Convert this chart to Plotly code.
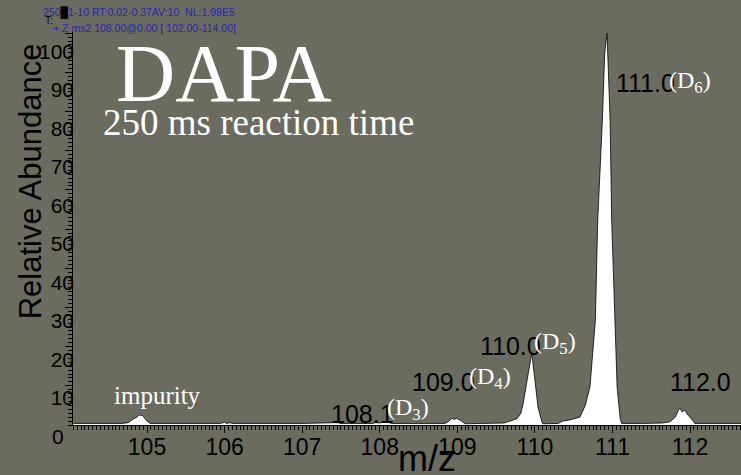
import plotly.graph_objects as go

# ---- data ----
mz = [104.05, 104.30, 104.55, 104.68, 104.76, 104.78, 104.82, 104.87, 104.90, 104.92,
      104.94, 104.96, 105.00, 105.04, 105.30, 105.60, 105.95, 106.00, 106.03, 106.07,
      106.10, 106.50, 107.00, 107.45, 107.50, 107.90, 107.95, 108.00, 108.07, 108.12,
      108.16, 108.50, 108.84, 108.88, 108.93, 108.96, 108.99, 109.04, 109.10, 109.30,
      109.60, 109.68, 109.77, 109.82, 109.85, 109.90, 109.96, 110.00, 110.04, 110.09,
      110.10, 110.30, 110.36, 110.45, 110.58, 110.65, 110.71, 110.78, 110.81, 110.87,
      110.90, 110.93, 110.94, 110.97, 110.99, 111.03, 111.06, 111.10, 111.12, 111.40,
      111.64, 111.74, 111.81, 111.85, 111.87, 111.90, 111.92, 111.94, 111.97, 112.03,
      112.06, 112.40, 112.66]
abundance = [0.4, 0.4, 0.4, 0.4, 0.6, 0.9, 1.5, 2.0, 2.6, 2.4,
             2.5, 2.0, 1.0, 0.4, 0.4, 0.4, 0.4, 0.7, 0.4, 0.6,
             0.4, 0.4, 0.4, 0.6, 0.4, 0.4, 0.6, 0.5, 0.9, 0.6,
             0.4, 0.4, 0.4, 0.8, 1.7, 1.4, 1.7, 1.2, 0.3, 0.4,
             0.5, 1.0, 1.6, 3.0, 5.6, 11.5, 18.4, 11.5, 4.6, 0.8,
             0.3, 0.4, 1.0, 1.3, 2.0, 5.0, 9.7, 26.8, 52.3, 77.8,
             94.9, 100.0, 94.9, 77.8, 52.3, 26.8, 9.7, 1.5, 0.4, 0.4,
             0.5, 0.8, 2.0, 3.8, 4.3, 3.3, 3.8, 3.6, 2.6, 1.3,
             0.4, 0.4, 0.4]

x_ticks = [105, 106, 107, 108, 109, 110, 111, 112]
y_label_vals = [10, 20, 30, 40, 50, 60, 70, 80, 90, 100]

peak_labels = ["111.0", "110.0", "109.0", "108.1", "112.0"]
peak_label_x = [111.42, 109.69, 108.82, 107.78, 112.14]
peak_label_y = [87.2, 20.2, 11.0, 2.8, 11.0]

d_labels = ["(D<sub>6</sub>)", "(D<sub>5</sub>)", "(D<sub>4</sub>)", "(D<sub>3</sub>)"]
d_label_x = [111.70, 109.96, 109.13, 108.07]
d_label_y = [87.5, 20.9, 12.0, 4.0]

BG = "rgb(107,107,95)"
SANS = "Liberation Sans, Arial, sans-serif"
NARROW = "Liberation Sans Narrow, Arial Narrow, Liberation Sans, Arial, sans-serif"
SERIF = "Liberation Serif, Times New Roman, serif"

fig = go.Figure()
fig.add_trace(go.Scatter(
    x=mz, y=abundance, mode="lines", fill="tozeroy",
    fillcolor="white", line=dict(color="black", width=0.8),
    showlegend=False, hoverinfo="skip"))
# invisible trace on the label axis
fig.add_trace(go.Scatter(x=[mz[0]], y=[50], yaxis="y2", mode="markers",
                         marker=dict(opacity=0), showlegend=False, hoverinfo="skip"))

fig.update_layout(
    width=741, height=475,
    margin=dict(l=73, r=0, t=32, b=50, autoexpand=False),
    paper_bgcolor=BG, plot_bgcolor=BG,
    xaxis=dict(range=[104.046, 112.657], tickvals=x_ticks,
               ticktext=[str(v) for v in x_ticks],
               showgrid=False, zeroline=False, showline=True, linecolor="black",
               linewidth=1, ticks="outside", ticklen=7, tickcolor="black",
               tickfont=dict(family=NARROW, size=23, color="black"),
               ticklabelstandoff=-6,
               minor=dict(dtick=0.05, ticks="outside", ticklen=4, tickcolor="black"),
               automargin=False),
    yaxis=dict(range=[0, 100.3], tickvals=y_label_vals, showticklabels=False,
               showgrid=False, zeroline=False, showline=True, linecolor="black",
               linewidth=1, ticks="outside", ticklen=7, tickcolor="black",
               minor=dict(dtick=1, ticks="outside", ticklen=4, tickcolor="black"),
               automargin=False),
    yaxis2=dict(overlaying="y", side="left", anchor="x", range=[2.9, 105.1],
                tickvals=y_label_vals, ticktext=[str(v) for v in y_label_vals],
                showgrid=False, zeroline=False, showline=False, ticks="",
                tickfont=dict(family=SANS, size=21, color="black"),
                ticklabelstandoff=-2, automargin=False),
)

ann = []
# "0" tick label
ann.append(dict(text="0", x=(58 - 73) / 668, xref="paper", y=(425 - 436) / 393, yref="paper",
                showarrow=False, font=dict(family=SANS, size=21, color="black"),
                xanchor="center", yanchor="middle"))
# axis titles
ann.append(dict(text="Relative Abundance", x=(30 - 73) / 668, xref="paper", y=0.62,
                yref="paper", showarrow=False, textangle=-90,
                font=dict(family=SANS, size=31, color="black"),
                xanchor="center", yanchor="middle"))
ann.append(dict(text="m/z", x=(427 - 73) / 668, xref="paper", y=-0.027, yref="paper",
                showarrow=False, font=dict(family=NARROW, size=36, color="black"),
                xanchor="center", yanchor="top"))
# title texts
ann.append(dict(text="DAPA", x=105.99, y=89.7, xref="x", yref="y", showarrow=False,
                font=dict(family=SERIF, size=82, color="white"),
                xanchor="center", yanchor="middle"))
ann.append(dict(text="250 ms reaction time", x=106.44, y=77.2, xref="x", yref="y",
                showarrow=False, font=dict(family=SERIF, size=37, color="white"),
                xanchor="center", yanchor="middle"))
ann.append(dict(text="impurity", x=105.135, y=7.65, xref="x", yref="y", showarrow=False,
                font=dict(family=SERIF, size=25, color="white"),
                xanchor="center", yanchor="middle"))
for t, px, py in zip(peak_labels, peak_label_x, peak_label_y):
    ann.append(dict(text=t, x=px, y=py, xref="x", yref="y", showarrow=False,
                    font=dict(family=SANS, size=25, color="black"),
                    xanchor="center", yanchor="middle"))
for t, px, py in zip(d_labels, d_label_x, d_label_y):
    ann.append(dict(text=t, x=px, y=py, xref="x", yref="y", showarrow=False,
                    font=dict(family=SERIF, size=24, color="white"),
                    xanchor="left", yanchor="middle"))
# header text
BLUE = "rgb(40,40,175)"
ann.append(dict(text="250<span style='color:black'>█</span>1-10 RT:0.02-0.37AV:10  NL:1.99E5",
                x=(41 - 73) / 668, y=(425 - 13) / 393, xref="paper", yref="paper",
                showarrow=False, font=dict(family=SANS, size=10.5, color=BLUE),
                xanchor="left", yanchor="middle"))
ann.append(dict(text="T:", x=(43 - 73) / 668, y=(425 - 21) / 393, xref="paper", yref="paper",
                showarrow=False, font=dict(family=SANS, size=10, color="black"),
                xanchor="left", yanchor="middle"))
ann.append(dict(text="+ Z ms2 108.00@0.00 [ 102.00-114.00]",
                x=(51 - 73) / 668, y=(425 - 28) / 393, xref="paper", yref="paper",
                showarrow=False, font=dict(family=SANS, size=10.5, color=BLUE),
                xanchor="left", yanchor="middle"))
fig.update_layout(annotations=ann)

fig.write_html("out.html", config={"displayModeBar": False},
               post_script="document.body.style.margin='0';document.body.style.overflow='hidden';")
